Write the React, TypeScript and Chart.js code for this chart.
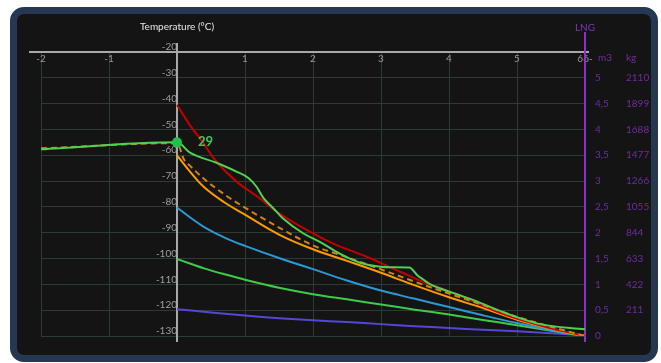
import React, { useEffect, useRef } from 'react';
import { Chart, registerables } from 'chart.js';
Chart.register(...registerables);

// ---- axis ranges / ticks ----
const X_MIN = -2;
const X_MAX = 6;
const T_MIN = -130;
const T_MAX = -20;
const M3_MAX = 5.5;
const KG_STEP = 211;
const KG_MAX = 2321;

// ---- series ----
const mainX = [-2, 0, 0.19, 0.58, 0.88, 1.05, 1.17, 1.27, 1.42, 1.56, 1.86, 2.1, 2.4, 2.69, 2.99, 3.2, 3.42, 3.48, 3.53, 3.62, 3.72, 3.87, 4.16, 4.36, 4.85, 5.34, 6];
const mainT = [-57.7, -55, -59, -62.9, -66.4, -68.8, -72.2, -76.5, -80.6, -84.5, -90.3, -93.5, -98.2, -101.6, -103.2, -103.4, -103.5, -104.8, -106.4, -108.1, -109.9, -111.6, -114.2, -116.1, -121.3, -125.4, -127.4];

const redX = [0, 0.19, 0.39, 0.58, 0.88, 1.17, 1.47, 1.86, 2.3, 2.79, 3.28, 3.67, 3.87, 4.2, 4.8, 5.4, 6];
const redT = [-40.5, -48.3, -55.4, -62.5, -70.3, -75.8, -81.9, -88.2, -94.2, -99.3, -105.1, -109.6, -111.4, -114.8, -121.5, -126.3, -130];

const dashX = [-2, 0, 0.1, 0.2, 0.4, 0.7, 1.0, 1.5, 2.0, 2.5, 3.0, 3.5, 4.0, 4.5, 5.0, 5.5, 6];
const dashT = [-57.3, -55.3, -61.5, -64.3, -69.2, -75.2, -80.3, -88, -94.9, -99.5, -104.2, -109, -113.6, -118, -122.6, -126.4, -130];

const orangeX = [0, 0.2, 0.4, 0.7, 1.0, 1.5, 2.0, 2.5, 3.0, 3.5, 4.0, 4.5, 5.0, 5.5, 6];
const orangeT = [-60, -66.6, -72.4, -78.3, -83, -90.7, -96.4, -100.9, -105.5, -110.4, -115, -119.2, -123.7, -127.2, -130];

const blueX = [0, 0.2, 0.4, 0.7, 1.0, 1.5, 2.0, 2.5, 3.0, 3.5, 4.0, 4.5, 5.0, 5.5, 6];
const blueT = [-80.2, -84.2, -87.8, -91.9, -95.1, -99.8, -104.1, -108.5, -112.4, -115.6, -118.8, -122, -125, -127.7, -130];

const lowGreenX = [0, 0.2, 0.4, 0.7, 1.0, 1.5, 2.0, 2.5, 3.0, 3.5, 4.0, 4.5, 5.0, 5.5, 6];
const lowGreenT = [-100.2, -102, -103.8, -106.1, -108.2, -111.3, -113.8, -115.8, -117.8, -119.8, -121.7, -123.8, -125.8, -128, -130];

const indigoX = [0, 0.5, 1.0, 1.5, 2.0, 2.5, 3.0, 3.5, 4.0, 4.5, 5.0, 5.5, 6];
const indigoT = [-119.6, -120.9, -122.1, -123.1, -123.9, -124.6, -125.4, -126.2, -126.9, -127.6, -128.2, -128.9, -129.8];

const markerX = 0;
const markerT = -55;
const markerLabel = '29';

const FONT = 'Lato';

const pts = (xs: number[], ys: number[]) => xs.map((x, i) => ({ x, y: ys[i] }));

const line = (label: string, xs: number[], ys: number[], color: string, order: number, extra: any = {}) => ({
  label,
  data: pts(xs, ys),
  borderColor: color,
  backgroundColor: color,
  borderWidth: 2,
  pointRadius: 0,
  tension: 0.4,
  fill: false,
  order,
  ...extra,
});

const overlay = {
  id: 'overlay',
  beforeDatasetsDraw(chart: any) {
    const { ctx, chartArea: a, scales } = chart;
    const xs = scales.x;
    const ys = scales.y;
    ctx.save();
    ctx.lineWidth = 2;
    ctx.strokeStyle = '#a9a9a9';
    const yTop = ys.getPixelForValue(T_MAX);
    ctx.beginPath();
    ctx.moveTo(a.left - 12, yTop);
    ctx.lineTo(a.right + 4, yTop);
    ctx.stroke();
    const x0 = xs.getPixelForValue(0);
    ctx.beginPath();
    ctx.moveTo(x0, a.top - 9);
    ctx.lineTo(x0, a.bottom + 6);
    ctx.stroke();
    const x6 = xs.getPixelForValue(X_MAX);
    ctx.strokeStyle = '#8e2fd2';
    ctx.beginPath();
    ctx.moveTo(x6, a.top - 20);
    ctx.lineTo(x6, a.bottom + 6);
    ctx.stroke();

    ctx.font = `10px ${FONT}`;
    ctx.textAlign = 'center';
    ctx.textBaseline = 'middle';
    ctx.fillStyle = '#e8e8e8';
    ctx.fillText('Temperature (°C)', x0, 13);
    ctx.fillStyle = '#7d38b8';
    ctx.fillText('LNG', x6, 14);
    ctx.textAlign = 'left';
    ctx.fillStyle = '#6e2da0';
    ctx.fillText('m3', scales.y2.left + 13, a.top + 6);
    ctx.fillText('kg', scales.y3.left + 11, a.top + 6);
    ctx.restore();
  },
  afterDatasetsDraw(chart: any) {
    const { ctx, scales } = chart;
    const px = scales.x.getPixelForValue(markerX);
    const py = scales.y.getPixelForValue(markerT);
    ctx.save();
    ctx.font = `bold 13px ${FONT}`;
    ctx.fillStyle = '#3fcb58';
    ctx.textAlign = 'left';
    ctx.textBaseline = 'middle';
    ctx.fillText(markerLabel, px + 21, py - 1);
    ctx.restore();
  },
};

export default function App() {
  const ref = useRef<HTMLCanvasElement>(null);
  useEffect(() => {
    const gridColor = '#2c3c34';
    const chart = new Chart(ref.current as HTMLCanvasElement, {
      type: 'line',
      data: {
        datasets: [
          {
            label: 'marker',
            data: [{ x: markerX, y: markerT }],
            showLine: false,
            pointRadius: 5,
            pointBorderWidth: 0,
            backgroundColor: '#1ec24a',
            borderColor: '#1ec24a',
            order: 0,
          } as any,
          line('main', mainX, mainT, '#4fd152', 1, { tension: 0, cubicInterpolationMode: 'monotone' }),
          line('dash', dashX, dashT, '#cf8416', 2, { borderDash: [6, 4], tension: 0, cubicInterpolationMode: 'monotone' }),
          line('red', redX, redT, '#c40000', 3),
          line('orange', orangeX, orangeT, '#ff9a00', 4),
          line('blue', blueX, blueT, '#2a9ad6', 5),
          line('lowGreen', lowGreenX, lowGreenT, '#3dcc4a', 6),
          line('indigo', indigoX, indigoT, '#5447d8', 7),
        ],
      },
      options: {
        responsive: false,
        animation: false,
        events: [],
        layout: { padding: { left: 24, top: 38, right: 0, bottom: 19 } },
        plugins: { legend: { display: false }, tooltip: { enabled: false }, title: { display: false } },
        scales: {
          x: {
            type: 'linear',
            position: { y: T_MAX } as any,
            min: X_MIN,
            max: X_MAX,
            grid: { color: gridColor, drawTicks: false, lineWidth: 1 },
            border: { display: false },
            ticks: {
              stepSize: 1,
              padding: 1,
              color: '#9a9a9a',
              font: { family: FONT, size: 10 },
              maxRotation: 0,
              callback: (v: any) => (v === 0 ? '' : v === X_MAX ? '66-' : String(v)),
            },
          },
          y: {
            type: 'linear',
            position: { x: 0 } as any,
            min: T_MIN,
            max: T_MAX,
            grid: { color: gridColor, drawTicks: false, lineWidth: 1 },
            border: { display: false },
            ticks: {
              stepSize: 10,
              padding: 0,
              labelOffset: -5,
              color: '#9f9f9f',
              font: { family: FONT, size: 10 },
            },
          },
          y2: {
            type: 'linear',
            position: 'right',
            weight: 0,
            min: 0,
            max: M3_MAX,
            grid: { display: false, drawTicks: false },
            border: { display: false },
            afterFit: (s: any) => { s.width = 30; },
            ticks: {
              stepSize: 0.5,
              padding: 10,
              color: '#6e2da0',
              font: { family: FONT, size: 10 },
              callback: (v: any) => (v === M3_MAX ? '' : String(v).replace('.', ',')),
            },
          },
          y3: {
            type: 'linear',
            position: 'right',
            weight: 1,
            min: 0,
            max: KG_MAX,
            grid: { display: false, drawTicks: false },
            border: { display: false },
            afterFit: (s: any) => { s.width = 36; },
            ticks: {
              stepSize: KG_STEP,
              padding: 11,
              color: '#6e2da0',
              font: { family: FONT, size: 10 },
              callback: (v: any) => (v === 0 || v === KG_MAX ? '' : String(v)),
            },
          },
        },
      } as any,
      plugins: [overlay],
    });
    return () => chart.destroy();
  }, []);

  return (
    <div
      style={{
        position: 'absolute',
        left: 10,
        top: 7,
        width: 648,
        height: 355,
        boxSizing: 'border-box',
        border: '7px solid #263851',
        borderRadius: 14,
        background: '#141414',
        overflow: 'hidden',
      }}
    >
      <canvas ref={ref} width={634} height={341} style={{ display: 'block' }} />
    </div>
  );
}
